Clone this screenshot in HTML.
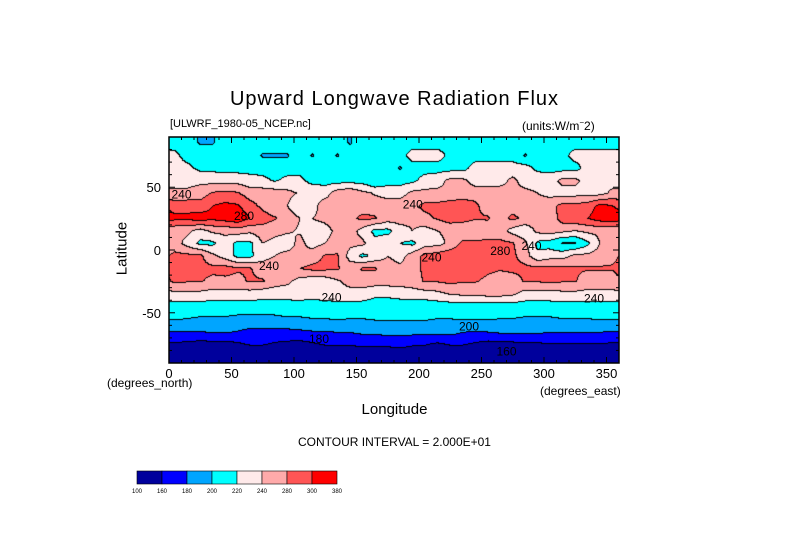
<!DOCTYPE html>
<html><head><meta charset="utf-8"><style>
body{margin:0;background:#fff;width:789px;height:558px;overflow:hidden;font-family:"Liberation Sans",sans-serif}
#wrap{position:relative;width:789px;height:558px}
.t{position:absolute;color:#000;white-space:nowrap}
</style></head><body><div id="wrap">
<div class="t" style="left:0;width:789px;text-align:center;top:88px;font-size:20px;letter-spacing:1px">Upward Longwave Radiation Flux</div>
<div class="t" style="left:170px;top:118px;font-size:11px">[ULWRF_1980-05_NCEP.nc]</div>
<div class="t" style="left:522px;top:118px;font-size:12px">(units:W/m<sup style="font-size:8px">−</sup>2)</div>
<canvas id="map" width="450" height="226" style="position:absolute;left:169px;top:137px"></canvas>
<svg id="ax" width="789" height="558" style="position:absolute;left:0;top:0"></svg>
<div class="t" style="left:107px;top:376px;font-size:12px">(degrees_north)</div>
<div class="t" style="left:540px;top:384px;font-size:12px">(degrees_east)</div>
<div class="t" style="left:0;width:789px;text-align:center;top:401px;font-size:15px">Longitude</div>
<div class="t" style="left:92px;top:240px;font-size:15px;transform:rotate(-90deg);width:60px;text-align:center">Latitude</div>
<div class="t" style="left:0;width:789px;text-align:center;top:435px;font-size:12px">CONTOUR INTERVAL = 2.000E+01</div>
</div>
<script>
const binEdges=[160,180,200,220,240,260,280];
const binColors=["#00009c","#0000ff","#00a5ff","#00ffff","#ffeaea","#ffaaaa","#ff5555","#ff0000"];
const cbLabels=["100","160","180","200","220","240","280","300","380"];
const xTicks=[0,50,100,150,200,250,300,350];
const yTicks=[50,0,-50];
const lats=[85,75,65,55,45,35,25,15,5,-5,-15,-25,-35,-45,-55,-65,-75,-85];
const r85=[212,212,198,198,212,212,212,212,212,212,212,212,212,212,198,212,212,212,212,212,212,212,212,212,212,212,212,212,212,212,212,212,212,212,212,212];
const r75=[225,212,212,212,212,212,212,198,198,198,212,198,212,198,212,212,212,212,212,228,228,228,215,212,212,212,212,212,198,212,212,212,228,228,228,228];
const r65=[228,225,215,215,212,212,212,212,212,212,212,212,212,212,212,212,212,212,198,212,212,212,212,212,228,228,228,228,228,215,212,212,212,228,228,228];
const r55=[232,232,235,232,232,232,228,225,218,225,225,212,212,212,212,212,200,212,212,215,228,232,245,245,232,232,232,245,232,232,232,245,245,232,232,232];
const r45=[245,245,250,262,265,262,250,250,250,245,238,238,232,250,255,245,238,232,232,245,245,245,245,250,250,250,250,245,245,240,232,232,232,232,232,245];
const r35=[270,272,268,280,285,282,268,255,242,240,225,232,250,250,250,250,250,250,250,255,265,265,270,270,265,250,250,250,250,250,255,265,265,270,285,280];
const r25=[285,285,290,285,290,295,280,270,262,250,240,240,245,255,255,265,262,250,250,245,255,262,270,270,262,262,250,265,255,250,245,270,275,280,290,295];
const r15=[245,245,232,245,245,250,245,250,245,242,238,232,232,245,250,232,215,215,230,240,232,240,245,240,240,250,250,232,225,245,250,245,240,245,245,245];
const r05=[250,232,215,215,232,215,215,240,235,232,245,232,240,250,245,245,225,232,220,215,232,232,245,265,265,265,265,262,245,215,210,198,198,215,240,250];
const rm05=[265,265,265,245,232,215,215,232,240,245,245,250,262,262,232,215,225,240,232,250,265,270,275,275,275,270,268,265,250,225,232,232,245,245,250,255];
const rm15=[268,270,265,265,268,262,262,250,255,255,260,265,265,262,250,262,262,250,245,250,265,270,272,272,270,265,262,265,265,265,265,265,262,262,262,262];
const rm25=[265,262,262,255,255,255,262,262,250,245,232,228,228,238,245,250,250,250,250,250,262,262,265,262,262,255,250,250,262,262,265,262,262,250,250,250];
const rm35=[235,235,235,232,232,232,232,228,228,228,230,228,235,235,235,232,225,225,228,232,232,235,242,245,245,248,248,245,232,232,232,235,235,235,235,235];
const rm45=[212,212,212,210,210,210,212,210,210,212,212,210,208,212,212,212,210,210,210,208,208,210,210,210,210,210,210,210,212,212,212,212,212,212,212,212];
const rm55=[202,200,198,198,198,196,195,195,196,198,198,200,200,202,200,200,202,202,202,202,202,200,200,202,202,202,200,200,198,198,198,200,200,200,202,202];
const rm65=[180,180,180,184,184,180,176,176,176,176,178,180,180,182,182,185,185,188,188,188,188,188,188,182,180,182,185,185,185,185,182,182,182,182,182,180];
const rm75=[158,156,154,154,154,158,162,162,158,156,154,158,162,162,162,165,165,165,165,162,162,158,162,162,158,154,154,156,158,158,160,160,160,160,160,158];
const rm85=[145,145,145,150,150,145,145,145,145,145,145,145,145,145,145,145,145,145,150,150,145,145,145,145,145,145,145,145,145,145,145,145,150,150,145,145];
const grid=[r85,r75,r65,r55,r45,r35,r25,r15,r05,rm05,rm15,rm25,rm35,rm45,rm55,rm65,rm75,rm85];

const X0=169,X1=619,Y0=137,Y1=363;
const xs=lon=>X0+(lon/360)*(X1-X0);
const ys=lat=>Y0+((90-lat)/180)*(Y1-Y0);
function val(lon,lat){
  let fc=(lon-5)/10; let c0=Math.floor(fc), t=fc-c0;
  let c1=((c0+1)%36+36)%36; c0=(c0%36+36)%36;
  let fr=(85-lat)/10; fr=Math.max(0,Math.min(lats.length-1,fr));
  let r0=Math.floor(fr), u=fr-r0, r1=Math.min(lats.length-1,r0+1);
  const a=grid[r0][c0]*(1-t)+grid[r0][c1]*t, b=grid[r1][c0]*(1-t)+grid[r1][c1]*t;
  return a*(1-u)+b*u;
}
function bin(v){let i=0;while(i<binEdges.length&&v>=binEdges[i])i++;return i;}
const cv=document.getElementById('map'),ctx=cv.getContext('2d');
const W=cv.width,H=cv.height,img=ctx.createImageData(W,H),bins=new Array(W*H);
for(let y=0;y<H;y++)for(let x=0;x<W;x++){
  const lon=(x+0.5)/W*360, lat=90-(y+0.5)/H*180;
  bins[y*W+x]=bin(val(lon,lat));
}
function hex(h){return[parseInt(h.substr(1,2),16),parseInt(h.substr(3,2),16),parseInt(h.substr(5,2),16)];}
const rgb=binColors.map(hex);
for(let y=0;y<H;y++)for(let x=0;x<W;x++){
  const b=bins[y*W+x];let c=rgb[b];
  if((x<W-1&&bins[y*W+x+1]!==b)||(y<H-1&&bins[(y+1)*W+x]!==b))c=[0,0,0];
  const k=(y*W+x)*4;img.data[k]=c[0];img.data[k+1]=c[1];img.data[k+2]=c[2];img.data[k+3]=255;
}
ctx.putImageData(img,0,0);

const svg=document.getElementById('ax'),NS="http://www.w3.org/2000/svg";
function mk(tag,at,parent){const e=document.createElementNS(NS,tag);for(const k in at)e.setAttribute(k,at[k]);(parent||svg).appendChild(e);return e;}
const frame=mk('rect',{x:X0,y:Y0,width:X1-X0,height:Y1-Y0,fill:'none',stroke:'#000','stroke-width':1.5});


for(let lon=0;lon<=360;lon+=10){
  const len=(lon%50===0)?6:3;
  const t1=mk('line',{x1:xs(lon),x2:xs(lon),y1:Y1,y2:Y1-len,stroke:'#000'});
  
  
  const t2=mk('line',{x1:xs(lon),x2:xs(lon),y1:Y0,y2:Y0+len,stroke:'#000'});
  
  
}
for(let lat=-90;lat<=90;lat+=10){
  const len=(lat%50===0)?6:3;
  const t1=mk('line',{x1:X0,x2:X0+len,y1:ys(lat),y2:ys(lat),stroke:'#000'});
  
  
  const t2=mk('line',{x1:X1,x2:X1-len,y1:ys(lat),y2:ys(lat),stroke:'#000'});
  
  
}
xTicks.forEach(v=>{const t=mk('text',{x:xs(v),y:Y1+15,'text-anchor':'middle','font-size':13,'font-family':'Liberation Sans, sans-serif'});t.textContent=v;
  
  });
yTicks.forEach(v=>{const t=mk('text',{x:X0-8,y:ys(v)+5,'text-anchor':'end','font-size':13,'font-family':'Liberation Sans, sans-serif'});t.textContent=v;
  
  });
[[10,45,"240"],[60,28,"280"],[80,-12,"240"],[130,-37,"240"],[210,-5,"240"],[290,4,"240"],[265,0,"280"],[340,-38,"240"],[240,-60,"200"],[270,-80,"160"],[120,-70,"180"],[195,37,"240"]].forEach(l=>{
  const t=mk('text',{x:xs(l[0]),y:ys(l[1])+5,'text-anchor':'middle','font-size':12,'font-family':'Liberation Sans, sans-serif'});t.textContent=l[2];
  
  
});
const CB0=137,CBW=25;
binColors.forEach((c,i)=>{const r=mk('rect',{x:CB0+i*CBW,y:471,width:CBW,height:13,fill:c,stroke:'#000','stroke-width':0.6});
  
  });
cbLabels.forEach((s,i)=>{const t=mk('text',{x:CB0+i*CBW,y:493,'text-anchor':'middle','font-size':6,'font-family':'Liberation Sans, sans-serif'});t.textContent=s;
  
  });
</script></body></html>
